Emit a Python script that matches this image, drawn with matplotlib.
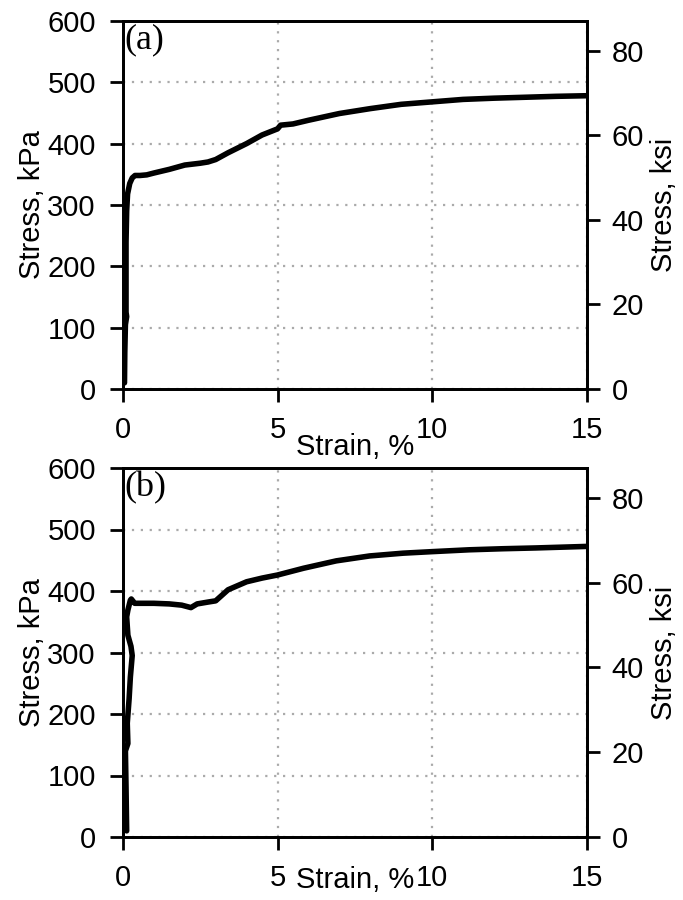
import matplotlib
matplotlib.use("Agg")
import matplotlib.pyplot as plt

# ========================== Data ==========================
strain_a = [0.05, 0.06, 0.08, 0.12, 0.10, 0.10, 0.12, 0.15, 0.22, 0.30, 0.39, 0.55, 0.77,
            1.0, 1.5, 2.0, 2.5, 2.75, 3.0, 3.4, 4.0, 4.5, 5.0, 5.1, 5.5, 6.0, 7.0, 8.0,
            9.0, 10.0, 11.0, 12.0, 13.0, 14.0, 15.0]
stress_a = [10, 60, 105, 118, 125, 240, 290, 318, 335, 344, 348, 348, 349,
            352, 358, 365, 368, 370, 374, 385, 400, 414, 424, 430, 432, 438, 449, 457,
            464, 468, 472, 474, 475.5, 477, 478]

strain_b = [0.12, 0.10, 0.08, 0.16, 0.14, 0.20, 0.24, 0.30, 0.26, 0.16, 0.12, 0.16, 0.24,
            0.27, 0.38, 0.6, 1.0, 1.5, 1.9, 2.2, 2.4, 2.75, 3.0, 3.4, 4.0, 4.5, 5.0,
            5.84, 6.9, 7.98, 9.06, 10.0, 11.2, 12.27, 13.35, 15.0]
stress_b = [10, 80, 140, 152, 185, 225, 260, 295, 310, 328, 358, 369, 385,
            387, 380, 380, 380, 379, 377, 373, 379, 382, 384, 402, 415, 421, 426,
            437, 449, 457, 461.5, 464, 467, 468.7, 470, 472.5]

panels = [("(a)", strain_a, stress_a), ("(b)", strain_b, stress_b)]
x_ticks = [0, 5, 10, 15]
kpa_ticks = [0, 100, 200, 300, 400, 500, 600]
ksi_ticks = [0, 20, 40, 60, 80]
KPA_PER_KSI = 6.895

# ========================== Style ==========================
plt.rcParams['font.family'] = ['Liberation Sans', 'DejaVu Sans']
FS = 21

fig = plt.figure(figsize=(6.83, 9.0), dpi=100)
positions = [[0.180, 0.5678, 0.679, 0.409], [0.180, 0.070, 0.679, 0.410]]
xlabel_y = [-0.12, -0.078]

for (tag, strain, stress), pos, xl_y in zip(panels, positions, xlabel_y):
    ax = fig.add_axes(pos)
    ax.plot(strain, stress, color='black', lw=4, solid_capstyle='round',
            solid_joinstyle='round', zorder=5)
    ax.set_xlim(0, 15)
    ax.set_ylim(0, 600)
    ax.set_xticks(x_ticks)
    ax.set_yticks(kpa_ticks)
    ax.grid(True, color='#aaaaaa', linestyle=(0, (1, 3)), lw=1.6)
    for s in ax.spines.values():
        s.set_linewidth(2)
    ax.tick_params(axis='both', direction='out', length=9.5, width=2,
                   labelsize=FS, pad=10)
    ax.set_xlabel('Strain, %', fontsize=FS)
    ax.xaxis.set_label_coords(0.5, xl_y)
    ax.set_ylabel('Stress, kPa', fontsize=FS)
    ax.yaxis.set_label_coords(-0.165, 0.5)
    ax.text(0.004, 0.992, tag, transform=ax.transAxes, ha='left', va='top',
            fontsize=26, family='Liberation Serif')

    ax2 = ax.twinx()
    ax2.set_ylim(0, 600 / KPA_PER_KSI)
    ax2.set_yticks(ksi_ticks)
    for s in ax2.spines.values():
        s.set_linewidth(2)
    ax2.tick_params(axis='y', direction='out', length=9.5, width=2,
                    labelsize=FS, pad=8.5)
    ax2.set_ylabel('Stress, ksi', fontsize=FS)
    ax2.yaxis.set_label_coords(1.136, 0.5)

fig.savefig('out.png', dpi=100)
